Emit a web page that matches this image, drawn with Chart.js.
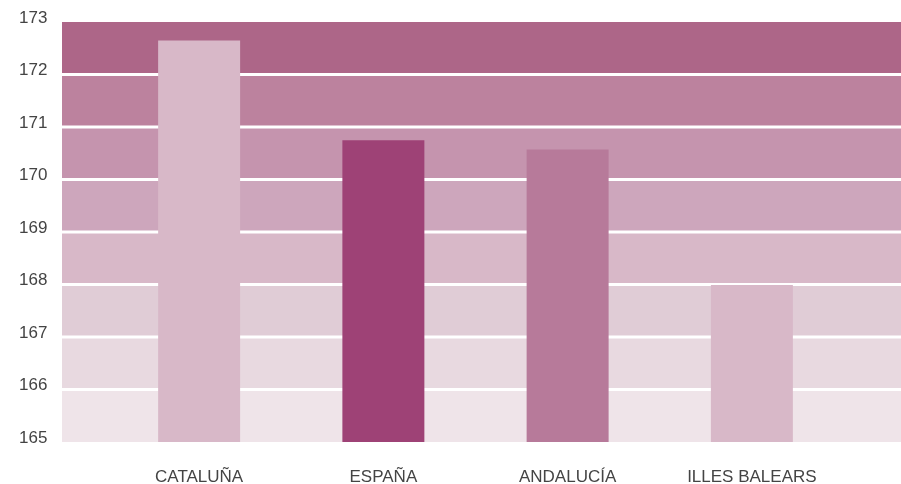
<!DOCTYPE html>
<html id="html">
<head>
<meta charset="utf-8">
<script src="https://cdn.jsdelivr.net/npm/chart.js@4.4.1/dist/chart.umd.min.js"></script>
<style>
  html, body { margin: 0; padding: 0; background: #fff; }
  #wrap { width: 901px; height: 484px; }
</style>
</head>
<body>
<div id="wrap"><canvas id="myChart"></canvas></div>
<script>
const categories = ['CATALUÑA', 'ESPAÑA', 'ANDALUCÍA', 'ILLES BALEARS']
const heights = [172.65, 170.75, 170.57, 167.99]
const barColors = ['#d8b8c8', '#9e4276', '#b77a9a', '#d8b8c8']
const yTicks = [165, 166, 167, 168, 169, 170, 171, 172, 173]
// band colours from 165-166 up to 172-173
const bandColors = ['#efe4e9', '#e8d9e0', '#e0ccd6', '#d8b8c8', '#cda6bc', '#c594ae', '#bc829e', '#ad6688']

// bands + white lines, wider than the bar area, drawn before the axes
const bandsPlugin = {
    id: 'bands',
    beforeDraw(chart) {
        const ctx = chart.ctx
        const y = chart.scales.y
        const left = 62
        const right = chart.width
        ctx.save()
        for (let i = 0; i < yTicks.length - 1; i++) {
            const top = y.getPixelForValue(yTicks[i + 1])
            const bot = y.getPixelForValue(yTicks[i])
            ctx.fillStyle = bandColors[i]
            ctx.fillRect(left, top, right - left, bot - top)
        }
        ctx.strokeStyle = '#ffffff'
        ctx.lineWidth = 3
        for (let i = 1; i < yTicks.length - 1; i++) {
            const py = y.getPixelForValue(yTicks[i])
            ctx.beginPath()
            ctx.moveTo(left, py)
            ctx.lineTo(right, py)
            ctx.stroke()
        }
        ctx.restore()
    }
}

const ctx = document.getElementById('myChart')
const myChart = new Chart(ctx, {
    type: 'bar',
    data: {
        labels: categories,
        datasets: [{
            data: heights,
            backgroundColor: barColors,
            borderWidth: 0,
            barPercentage: 0.445,
            categoryPercentage: 1
        }]
    },
    options: {
        responsive: true,
        maintainAspectRatio: false,
        animation: false,
        layout: { padding: { top: 22, right: 57, bottom: 0, left: 19 } },
        plugins: {
            legend: { display: false },
            tooltip: { enabled: false }
        },
        scales: {
            x: {
                afterFit: (axis) => { axis.height = 42 },
                grid: { display: false, drawTicks: false },
                border: { display: false },
                ticks: {
                    color: '#444',
                    padding: 25,
                    maxRotation: 0,
                    font: { family: 'Liberation Sans', size: 17 }
                }
            },
            y: {
                min: yTicks[0],
                max: yTicks[yTicks.length - 1],
                afterFit: (axis) => { axis.width = 88 },
                grid: { display: false, drawTicks: false },
                border: { display: false },
                ticks: {
                    stepSize: 1,
                    autoSkip: false,
                    crossAlign: 'far',
                    color: '#444',
                    padding: 0,
                    labelOffset: -4,
                    font: { family: 'Liberation Sans', size: 17 }
                }
            }
        }
    },
    plugins: [bandsPlugin]
})
</script>
</body>
</html>
